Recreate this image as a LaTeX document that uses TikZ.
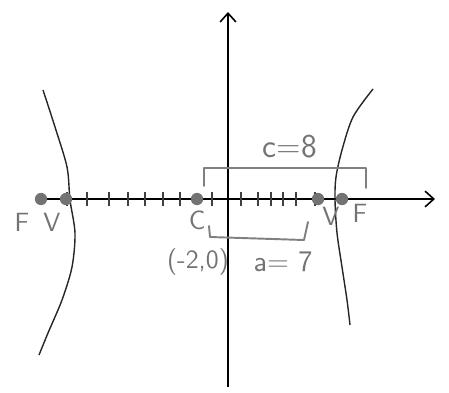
\documentclass[tikz,border=0pt]{standalone}
\usetikzlibrary{arrows.meta,positioning}
\tikzset{
  axis/.style={->, line width=0.9pt, draw=black, >={Straight Barb[length=5pt,width=9pt]}},
  branch/.style={line width=0.8pt, draw=black!85},
  pencil/.style={line width=1.1pt, draw=black!50, line cap=round, line join=round},
  hash/.style={line width=0.8pt, draw=black!75},
  dot/.style={circle, fill=black!55, inner sep=0pt, minimum size=7pt},
  note/.style={text=black!55, font=\sffamily\fontsize{15}{17}\selectfont, inner sep=1pt}
}

\begin{document}
\begin{tikzpicture}[x=0.02cm, y=-0.02cm]
  \useasboundingbox (0,0) rectangle (449,392);
  % axes
  \coordinate (xs) at (40,199);
  \coordinate (xe) at (435,199);
  \coordinate (ys) at (228,387);
  \coordinate (ye) at (228,12);
  \draw[axis] (xs) -- (xe);
  \draw[axis] (ys) -- (ye);
  % hash marks
  \foreach \t in {67,87,109,128,145,163,180,212,241,258,271,283,296,315}
    \draw[hash] (\t,192) -- (\t,206);
  % the two branches
  \draw[branch] plot[smooth] coordinates {(43,90) (55,127) (67,167) (70,200) (75,233) (72,267) (62,300) (48,333) (39,355)};
  \draw[branch] plot[smooth] coordinates {(373,89) (353,117) (342,150) (336,177) (335,200) (337,233) (342,267) (347,300) (350,325)};
  % points on the axis
  \node[dot] (fl) at (41,199) {};
  \node[dot] (vl) at (66,199) {};
  \node[dot] (ctr) at (197,199) {};
  \node[dot] (vr) at (318,199) {};
  \node[dot] (fr) at (342,199) {};
  \node[note] (flab) at (22,222) {F};
  \node[note] (vlab) at (52,222) {V};
  \node[note, below=2pt of ctr] (clab) {C};
  \node[note] (vrlab) at (331,216) {V};
  \node[note] (frlab) at (360,213) {F};
  % brackets
  \coordinate (ct1) at (204,186);
  \coordinate (ct2) at (204,168);
  \coordinate (ct3) at (366,168);
  \coordinate (ct4) at (366,188);
  \draw[pencil] (ct1) -- (ct2) -- (ct3) -- (ct4);
  \coordinate (ab1) at (209,226);
  \coordinate (ab2) at (210,237);
  \coordinate (ab3) at (304,240);
  \coordinate (ab4) at (308,222);
  \draw[pencil] (ab1) -- (ab2) -- (ab3) -- (ab4);
  \node[note, font=\sffamily\fontsize{19}{21}\selectfont] (clen) at (290,147) {c=8};
  \node[note] (center) at (198,262) {(-2,0)};
  \node[note, font=\sffamily\fontsize{17}{19}\selectfont] (alen) at (283,262) {a= 7};
\end{tikzpicture}
\end{document}
